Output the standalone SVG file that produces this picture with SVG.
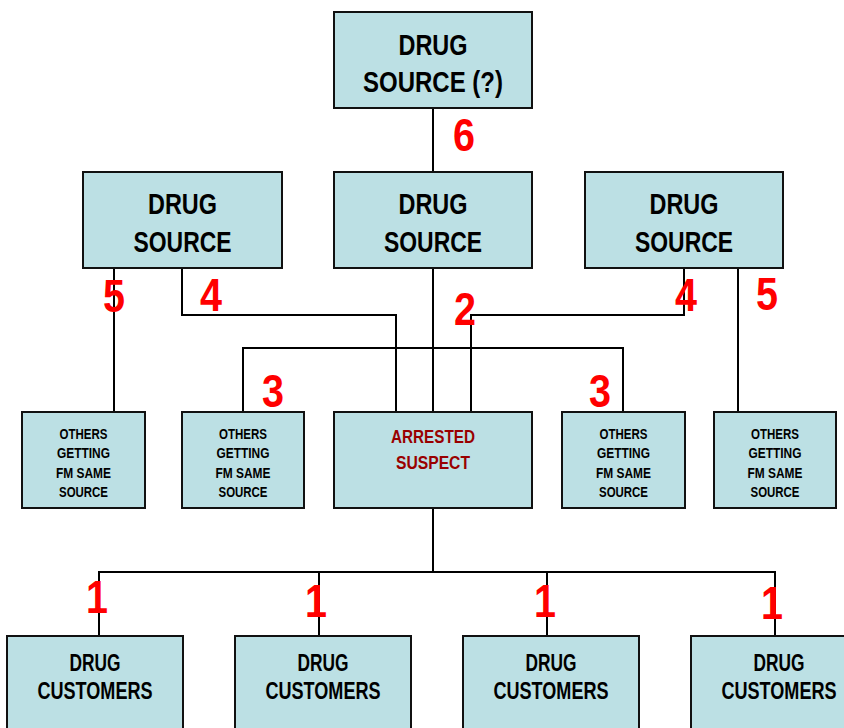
<svg xmlns="http://www.w3.org/2000/svg" width="844" height="728" viewBox="0 0 844 728">
<style>
.box{fill:#BCE0E4;stroke:#111;stroke-width:2}
.t{font-family:"Liberation Sans Narrow","Arial Narrow","Liberation Sans",sans-serif;font-weight:bold;text-anchor:middle;fill:#000}
.big{font-size:29px}
.cust{font-size:23px}
.small{font-size:15px}
.arr{font-size:19px;fill:#990000}
.num{font-family:"Liberation Sans Narrow","Arial Narrow","Liberation Sans",sans-serif;font-weight:bold;font-size:46px;fill:#FF0000;text-anchor:middle}
.c{fill:none;stroke:#000;stroke-width:2}
</style>
<rect width="844" height="728" fill="#fff"/>
<g id="connectors">
<path class="c" d="M433 108V172"/>
<path class="c" d="M114 268V412"/>
<path class="c" d="M182 268V315H396V412"/>
<path class="c" d="M433 268V412"/>
<path class="c" d="M684 268V315H471V412"/>
<path class="c" d="M738 268V412"/>
<path class="c" d="M243 412V348H623V412"/>
<path class="c" d="M433 508V572"/>
<path class="c" d="M99 636V572H775V636"/>
<path class="c" d="M319 572V636"/>
<path class="c" d="M547 572V636"/>
</g>
<g id="labels">
<text class="num" x="464" y="151" textLength="22" lengthAdjust="spacingAndGlyphs">6</text>
<text class="num" x="114" y="312" textLength="22" lengthAdjust="spacingAndGlyphs">5</text>
<text class="num" x="211" y="311" textLength="22" lengthAdjust="spacingAndGlyphs">4</text>
<text class="num" x="465" y="325" textLength="22" lengthAdjust="spacingAndGlyphs">2</text>
<text class="num" x="686" y="311" textLength="22" lengthAdjust="spacingAndGlyphs">4</text>
<text class="num" x="767" y="310" textLength="22" lengthAdjust="spacingAndGlyphs">5</text>
<text class="num" x="273" y="407" textLength="22" lengthAdjust="spacingAndGlyphs">3</text>
<text class="num" x="600" y="407" textLength="22" lengthAdjust="spacingAndGlyphs">3</text>
<text class="num" x="97" y="613" textLength="22" lengthAdjust="spacingAndGlyphs">1</text>
<text class="num" x="316" y="617" textLength="22" lengthAdjust="spacingAndGlyphs">1</text>
<text class="num" x="545" y="617" textLength="22" lengthAdjust="spacingAndGlyphs">1</text>
<text class="num" x="772" y="619" textLength="22" lengthAdjust="spacingAndGlyphs">1</text>
</g>
<g id="top-source">
<rect class="box" x="334" y="12" width="198" height="96"/>
<text class="t big" x="433" y="55" textLength="69" lengthAdjust="spacingAndGlyphs">DRUG</text>
<text class="t big" x="433" y="92" textLength="140" lengthAdjust="spacingAndGlyphs">SOURCE (?)</text>
</g>
<g id="source-left">
<rect class="box" x="83" y="172" width="199" height="96"/>
<text class="t big" x="182.5" y="214" textLength="69" lengthAdjust="spacingAndGlyphs">DRUG</text>
<text class="t big" x="182.5" y="252" textLength="98" lengthAdjust="spacingAndGlyphs">SOURCE</text>
</g>
<g id="source-center">
<rect class="box" x="334" y="172" width="198" height="96"/>
<text class="t big" x="433" y="214" textLength="69" lengthAdjust="spacingAndGlyphs">DRUG</text>
<text class="t big" x="433" y="252" textLength="98" lengthAdjust="spacingAndGlyphs">SOURCE</text>
</g>
<g id="source-right">
<rect class="box" x="585" y="172" width="198" height="96"/>
<text class="t big" x="684" y="214" textLength="69" lengthAdjust="spacingAndGlyphs">DRUG</text>
<text class="t big" x="684" y="252" textLength="98" lengthAdjust="spacingAndGlyphs">SOURCE</text>
</g>
<g id="others-1">
<rect class="box" x="22" y="412" width="123" height="96"/>
<text class="t small" x="83.5" y="439" textLength="48" lengthAdjust="spacingAndGlyphs">OTHERS</text>
<text class="t small" x="83.5" y="458" textLength="53" lengthAdjust="spacingAndGlyphs">GETTING</text>
<text class="t small" x="83.5" y="478" textLength="55" lengthAdjust="spacingAndGlyphs">FM SAME</text>
<text class="t small" x="83.5" y="497" textLength="49" lengthAdjust="spacingAndGlyphs">SOURCE</text>
</g>
<g id="others-2">
<rect class="box" x="182" y="412" width="122" height="96"/>
<text class="t small" x="243" y="439" textLength="48" lengthAdjust="spacingAndGlyphs">OTHERS</text>
<text class="t small" x="243" y="458" textLength="53" lengthAdjust="spacingAndGlyphs">GETTING</text>
<text class="t small" x="243" y="478" textLength="55" lengthAdjust="spacingAndGlyphs">FM SAME</text>
<text class="t small" x="243" y="497" textLength="49" lengthAdjust="spacingAndGlyphs">SOURCE</text>
</g>
<g id="arrested-suspect">
<rect class="box" x="334" y="412" width="198" height="96"/>
<text class="t arr" x="433" y="443" textLength="84" lengthAdjust="spacingAndGlyphs">ARRESTED</text>
<text class="t arr" x="433" y="469" textLength="74" lengthAdjust="spacingAndGlyphs">SUSPECT</text>
</g>
<g id="others-3">
<rect class="box" x="562" y="412" width="123" height="96"/>
<text class="t small" x="623.5" y="439" textLength="48" lengthAdjust="spacingAndGlyphs">OTHERS</text>
<text class="t small" x="623.5" y="458" textLength="53" lengthAdjust="spacingAndGlyphs">GETTING</text>
<text class="t small" x="623.5" y="478" textLength="55" lengthAdjust="spacingAndGlyphs">FM SAME</text>
<text class="t small" x="623.5" y="497" textLength="49" lengthAdjust="spacingAndGlyphs">SOURCE</text>
</g>
<g id="others-4">
<rect class="box" x="714" y="412" width="122" height="96"/>
<text class="t small" x="775" y="439" textLength="48" lengthAdjust="spacingAndGlyphs">OTHERS</text>
<text class="t small" x="775" y="458" textLength="53" lengthAdjust="spacingAndGlyphs">GETTING</text>
<text class="t small" x="775" y="478" textLength="55" lengthAdjust="spacingAndGlyphs">FM SAME</text>
<text class="t small" x="775" y="497" textLength="49" lengthAdjust="spacingAndGlyphs">SOURCE</text>
</g>
<g id="customers-1">
<rect class="box" x="7" y="636" width="176" height="100"/>
<text class="t cust" x="95" y="671" textLength="51" lengthAdjust="spacingAndGlyphs">DRUG</text>
<text class="t cust" x="95" y="699" textLength="115" lengthAdjust="spacingAndGlyphs">CUSTOMERS</text>
</g>
<g id="customers-2">
<rect class="box" x="235" y="636" width="176" height="100"/>
<text class="t cust" x="323" y="671" textLength="51" lengthAdjust="spacingAndGlyphs">DRUG</text>
<text class="t cust" x="323" y="699" textLength="115" lengthAdjust="spacingAndGlyphs">CUSTOMERS</text>
</g>
<g id="customers-3">
<rect class="box" x="463" y="636" width="176" height="100"/>
<text class="t cust" x="551" y="671" textLength="51" lengthAdjust="spacingAndGlyphs">DRUG</text>
<text class="t cust" x="551" y="699" textLength="115" lengthAdjust="spacingAndGlyphs">CUSTOMERS</text>
</g>
<g id="customers-4">
<rect class="box" x="691" y="636" width="176" height="100"/>
<text class="t cust" x="779" y="671" textLength="51" lengthAdjust="spacingAndGlyphs">DRUG</text>
<text class="t cust" x="779" y="699" textLength="115" lengthAdjust="spacingAndGlyphs">CUSTOMERS</text>
</g>
</svg>
